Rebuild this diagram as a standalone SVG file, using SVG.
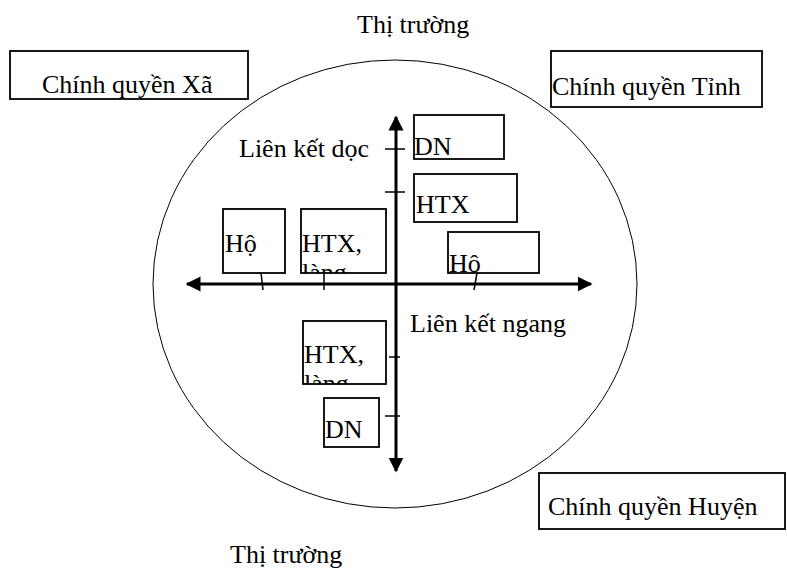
<svg xmlns="http://www.w3.org/2000/svg" width="787" height="579" viewBox="0 0 787 579">
  <style>
    .t { font-family: "Liberation Serif", "Times New Roman", serif; font-size: 26px; fill: #000; }
    .box { fill: #fff; stroke: #000; stroke-width: 1.8; }
    .axis { stroke: #000; stroke-width: 3; fill: none; }
    .tick { stroke: #000; stroke-width: 1.5; }
  </style>
  <defs>
    <marker id="arrow" viewBox="0 0 10 10" refX="9" refY="5" markerWidth="5" markerHeight="5.4" orient="auto" markerUnits="strokeWidth">
      <path d="M0,0 L10,5 L0,10 Z" fill="#000"/>
    </marker>
    <clipPath id="clip-ho-left"><rect x="223" y="209" width="62" height="64"/></clipPath>
    <clipPath id="clip-htx-left"><rect x="301" y="209" width="85" height="64"/></clipPath>
    <clipPath id="clip-ho-right"><rect x="448" y="232" width="91" height="41"/></clipPath>
    <clipPath id="clip-htx-low"><rect x="303" y="321" width="83" height="63"/></clipPath>
  </defs>

  <rect width="787" height="579" fill="#fff"/>

  <!-- market boundary -->
  <ellipse id="market" cx="395" cy="284" rx="242" ry="224" fill="none" stroke="#000" stroke-width="1"/>

  <text class="t" x="357" y="33">Thị trường</text>
  <text class="t" x="230" y="563">Thị trường</text>

  <!-- authorities -->
  <g id="cq-xa">
    <rect class="box" x="10" y="51" width="238" height="48"/>
    <text class="t" x="42" y="93">Chính quyền Xã</text>
  </g>
  <g id="cq-tinh">
    <rect class="box" x="551" y="51" width="211" height="56"/>
    <text class="t" x="552" y="95">Chính quyền Tỉnh</text>
  </g>
  <g id="cq-huyen">
    <rect class="box" x="539" y="473" width="246" height="56"/>
    <text class="t" x="548" y="515">Chính quyền Huyện</text>
  </g>

  <!-- actors -->
  <g id="dn-top">
    <rect class="box" x="414" y="115" width="90" height="44"/>
    <text class="t" x="414" y="155">DN</text>
  </g>
  <g id="htx-top">
    <rect class="box" x="414" y="174" width="103" height="48"/>
    <text class="t" x="416" y="213">HTX</text>
  </g>
  <g id="ho-right">
    <rect class="box" x="448" y="232" width="91" height="41"/>
    <text class="t" x="449" y="272" clip-path="url(#clip-ho-right)">Hộ</text>
  </g>
  <g id="ho-left">
    <rect class="box" x="223" y="209" width="62" height="64"/>
    <text class="t" x="225" y="252" clip-path="url(#clip-ho-left)">Hộ</text>
  </g>
  <g id="htx-lang-left">
    <rect class="box" x="301" y="209" width="85" height="64"/>
    <text class="t" clip-path="url(#clip-htx-left)"><tspan x="302" y="252">HTX,</tspan><tspan x="302" y="281">làng</tspan></text>
  </g>
  <g id="htx-lang-low">
    <rect class="box" x="303" y="321" width="83" height="63"/>
    <text class="t" clip-path="url(#clip-htx-low)"><tspan x="304" y="363">HTX,</tspan><tspan x="304" y="392">làng</tspan></text>
  </g>
  <g id="dn-low">
    <rect class="box" x="324" y="398" width="55" height="49"/>
    <text class="t" x="325" y="438">DN</text>
  </g>

  <!-- axes and ticks -->
  <g id="connectors">
    <line class="axis" x1="396" y1="284" x2="187" y2="284" marker-end="url(#arrow)"/>
    <line class="axis" x1="396" y1="284" x2="591" y2="284" marker-end="url(#arrow)"/>
    <line class="axis" x1="396" y1="284" x2="396" y2="117" marker-end="url(#arrow)"/>
    <line class="axis" x1="396" y1="284" x2="396" y2="471" marker-end="url(#arrow)"/>
    <line class="tick" x1="385" y1="149" x2="405" y2="149"/>
    <line class="tick" x1="385" y1="192" x2="405" y2="192"/>
    <line class="tick" x1="389" y1="357" x2="400" y2="357"/>
    <line class="tick" x1="385" y1="416" x2="400" y2="416"/>
    <line class="tick" x1="261" y1="273" x2="263" y2="290"/>
    <line class="tick" x1="324" y1="273" x2="324" y2="290"/>
    <line class="tick" x1="477" y1="273" x2="474" y2="290"/>
  </g>

  <text class="t" x="239" y="157">Liên kết dọc</text>
  <text class="t" x="410" y="332">Liên kết ngang</text>
</svg>
